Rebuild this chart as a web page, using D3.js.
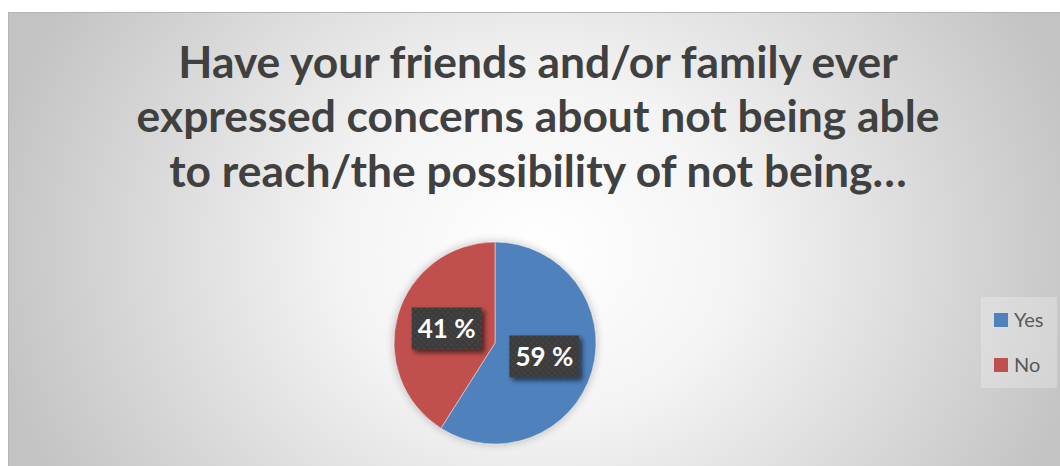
<!DOCTYPE html>
<html><head><meta charset="utf-8">
<script src="https://cdn.jsdelivr.net/npm/d3@7"></script>
<style>
html,body{margin:0;padding:0;background:#fff;}
svg{display:block;}
</style>
</head><body>
<svg id="c" width="1060" height="466"></svg>
<script>
const titleLines = ["Have your friends and/or family ever","expressed concerns about not being able","to reach/the possibility of not being…"];
const categories = ["Yes","No"];
const values = [59,41];
const colors = ["#4F81BD","#C0504D"];
const labels = ["59 %","41 %"];

const svg = d3.select("#c");
const defs = svg.append("defs");

// background gradient
const rg = defs.append("radialGradient").attr("id","bg").attr("gradientUnits","userSpaceOnUse")
  .attr("cx",540).attr("cy",250).attr("r",560)
  .attr("gradientTransform","translate(540,250) scale(1,0.85) translate(-540,-250)");
rg.append("stop").attr("offset","0").attr("stop-color","#ffffff");
rg.append("stop").attr("offset","0.35").attr("stop-color","#f4f4f4");
rg.append("stop").attr("offset","1").attr("stop-color","#c3c3c3");

svg.append("rect").attr("x",8.5).attr("y",12.5).attr("width",1060).attr("height",470)
  .attr("fill","url(#bg)").attr("stroke","#b4b4b4").attr("stroke-width",1);

// filters
const sh = defs.append("filter").attr("id","pieShadow").attr("x","-20%").attr("y","-20%").attr("width","140%").attr("height","140%");
sh.append("feGaussianBlur").attr("in","SourceAlpha").attr("stdDeviation",4).attr("result","b");
sh.append("feOffset").attr("in","b").attr("dx",0).attr("dy",0).attr("result","o");
sh.append("feComponentTransfer").attr("in","o").attr("result","oa").append("feFuncA").attr("type","linear").attr("slope",0.25);
const m1 = sh.append("feMerge"); m1.append("feMergeNode").attr("in","oa"); m1.append("feMergeNode").attr("in","SourceGraphic");

const ls = defs.append("filter").attr("id","lblShadow").attr("x","-30%").attr("y","-30%").attr("width","160%").attr("height","160%");
ls.append("feGaussianBlur").attr("in","SourceAlpha").attr("stdDeviation",2.5).attr("result","b");
ls.append("feOffset").attr("in","b").attr("dx",3).attr("dy",3).attr("result","o");
ls.append("feComponentTransfer").attr("in","o").attr("result","oa").append("feFuncA").attr("type","linear").attr("slope",0.6);
const m2 = ls.append("feMerge"); m2.append("feMergeNode").attr("in","oa"); m2.append("feMergeNode").attr("in","SourceGraphic");

const pat = defs.append("pattern").attr("id","dots").attr("patternUnits","userSpaceOnUse").attr("width",6).attr("height",6);
pat.append("rect").attr("width",6).attr("height",6).attr("fill","#3b3b3b");
pat.append("circle").attr("cx",1.5).attr("cy",1.5).attr("r",0.9).attr("fill","#4d4d4d");
pat.append("circle").attr("cx",4.5).attr("cy",4.5).attr("r",0.9).attr("fill","#4d4d4d");

// title
const tg = svg.append("g");
const baselines = [78,132,187];
const t = tg.selectAll("text").data(titleLines).join("text")
  .attr("x",538).attr("y",(d,i)=>baselines[i])
  .attr("text-anchor","middle")
  .attr("font-family","Lato, 'Open Sans', sans-serif").attr("font-weight","bold")
  .attr("font-size",40).attr("fill","#404040")
  .text(d=>d);
const w2 = t.nodes()[1].getComputedTextLength();
const fs = 40*803/w2;
t.attr("font-size",fs);

// pie
const cx = 495, cy = 343, R = 101;
const pie = d3.pie().sort(null).value(d=>d)(values);
const arc = d3.arc().innerRadius(0).outerRadius(R);
const pg = svg.append("g").attr("transform",`translate(${cx},${cy})`);
pg.append("g").attr("filter","url(#pieShadow)").selectAll("path").data(pie).join("path")
  .attr("d",arc).attr("fill",(d,i)=>colors[i]).attr("stroke","#e0e0e0").attr("stroke-width",0.6);

// labels
const lblArc = d3.arc().innerRadius(R*0.55).outerRadius(R*0.55);
const offs = [[-4,-2],[5,1]];
const lg = pg.selectAll("g.lbl").data(pie).join("g").attr("class","lbl")
  .attr("transform",(d,i)=>{const c=lblArc.centroid(d);return `translate(${c[0]+offs[i][0]},${c[1]+offs[i][1]})`;});
lg.append("rect").attr("x",-35).attr("y",-21).attr("width",70).attr("height",42)
  .attr("fill","url(#dots)").attr("filter","url(#lblShadow)");
lg.append("text").attr("text-anchor","middle").attr("y",9.5)
  .attr("font-family","Lato, 'Open Sans', sans-serif").attr("font-weight","bold")
  .attr("font-size",26).attr("fill","#ffffff").text((d,i)=>labels[i]);

// legend
const leg = svg.append("g");
leg.append("rect").attr("x",981).attr("y",297).attr("width",76).attr("height",91).attr("fill","#ffffff").attr("opacity",0.25);
const li = leg.selectAll("g.li").data(categories).join("g").attr("class","li")
  .attr("transform",(d,i)=>`translate(994,${313+i*45})`);
li.append("rect").attr("width",14).attr("height",14).attr("fill",(d,i)=>colors[i]);
li.append("text").attr("x",20).attr("y",14).attr("font-family","Lato, 'Open Sans', sans-serif")
  .attr("font-size",20).attr("fill","#595959").text(d=>d);
</script>
</body></html>
